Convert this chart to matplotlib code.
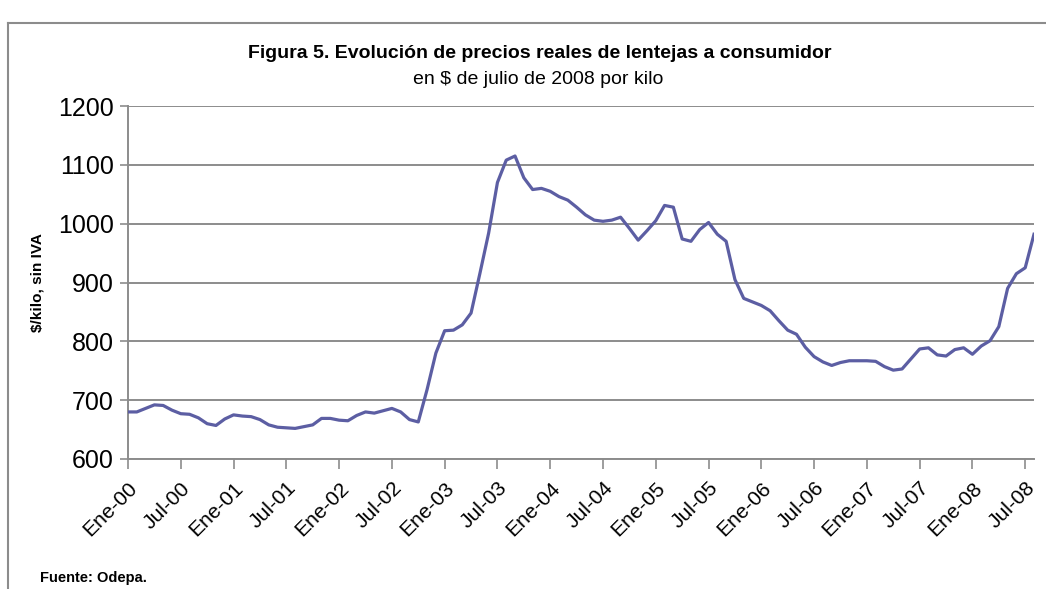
import matplotlib
matplotlib.use("Agg")
import matplotlib.pyplot as plt
from matplotlib.lines import Line2D
import numpy as np

plt.rcParams['font.family'] = ['Liberation Sans', 'DejaVu Sans']

# Monthly real prices, Ene-00 .. Ago-08 ($ of July 2008 per kilo)
prices = [
    680, 680, 686, 692, 691, 683, 677, 676, 670, 660, 657, 668,   # 2000
    675, 673, 672, 667, 658, 654, 653, 652, 655, 658, 669, 669,   # 2001
    666, 665, 674, 680, 678, 682, 686, 680, 667, 663, 718, 780,   # 2002
    818, 819, 828, 848, 915, 984, 1070, 1108, 1115, 1078, 1058, 1060,  # 2003
    1055, 1046, 1040, 1028, 1015, 1006, 1004, 1006, 1011, 992, 972, 988,  # 2004
    1005, 1031, 1028, 974, 970, 990, 1002, 982, 970, 905, 873, 867,  # 2005
    861, 852, 835, 819, 812, 790, 774, 765, 759, 764, 767, 767,   # 2006
    767, 766, 757, 751, 753, 770, 787, 789, 777, 775, 786, 789,   # 2007
    778, 792, 801, 825, 890, 915, 925, 982,                        # 2008
]
tick_labels = ["Ene-00", "Jul-00", "Ene-01", "Jul-01", "Ene-02", "Jul-02",
               "Ene-03", "Jul-03", "Ene-04", "Jul-04", "Ene-05", "Jul-05",
               "Ene-06", "Jul-06", "Ene-07", "Jul-07", "Ene-08", "Jul-08"]
y_ticks = [600, 700, 800, 900, 1000, 1100, 1200]

title = "Figura 5. Evolución de precios reales de lentejas a consumidor"
subtitle = "en $ de julio de 2008 por kilo"
ylabel = "$/kilo, sin IVA"
source = "Fuente: Odepa."

W, H = 1046, 589
fig = plt.figure(figsize=(W / 100, H / 100), dpi=100)
fig.patch.set_facecolor("white")

ax = fig.add_axes([128 / W, 1 - 459 / H, (1034 - 128) / W, (459 - 106) / H])

x = np.arange(len(prices))
ax.plot(x, prices, color="#5c5ea3", linewidth=2.3, solid_joinstyle="round", zorder=3)

ax.set_xlim(0, len(prices) - 1)
ax.set_ylim(600, 1200)
ax.set_yticks(y_ticks)
ax.set_yticklabels([str(v) for v in y_ticks], fontsize=18)
ax.set_xticks(np.arange(0, len(prices), 6)[:len(tick_labels)])
ax.set_xticklabels(tick_labels, rotation=45, ha="right", va="top",
                   rotation_mode="anchor", fontsize=15)

grid_c = "#8c8c8c"
ax.grid(axis="y", color=grid_c, linewidth=1.4, zorder=1)
for s in ["top", "right"]:
    ax.spines[s].set_visible(False)
ax.spines["left"].set_color(grid_c)
ax.spines["bottom"].set_color(grid_c)
ax.spines["left"].set_linewidth(1.4)
ax.spines["bottom"].set_linewidth(1.4)
ax.tick_params(axis="y", direction="out", length=6, color=grid_c, width=1.2, pad=4)
ax.tick_params(axis="x", direction="out", length=7, color=grid_c, width=1.2, pad=7)

ax.set_ylabel(ylabel, fontsize=11, fontweight="bold", labelpad=10)

fig.text(540 / W, 1 - 53 / H, title, ha="center", va="center",
         fontsize=14, fontweight="bold")
fig.text(538 / W, 1 - 79 / H, subtitle, ha="center", va="center", fontsize=14)
fig.text(40 / W, 1 - 578 / H, source, ha="left", va="center",
         fontsize=10.5, fontweight="bold")

# outer chart border
fig.add_artist(Line2D([8 / W, 1.0], [1 - 23 / H, 1 - 23 / H],
                      transform=fig.transFigure, color="#8c8c8c", linewidth=1.5))
fig.add_artist(Line2D([8 / W, 8 / W], [1 - 23 / H, 0],
                      transform=fig.transFigure, color="#8c8c8c", linewidth=1.5))

fig.savefig("out.png", dpi=100)
